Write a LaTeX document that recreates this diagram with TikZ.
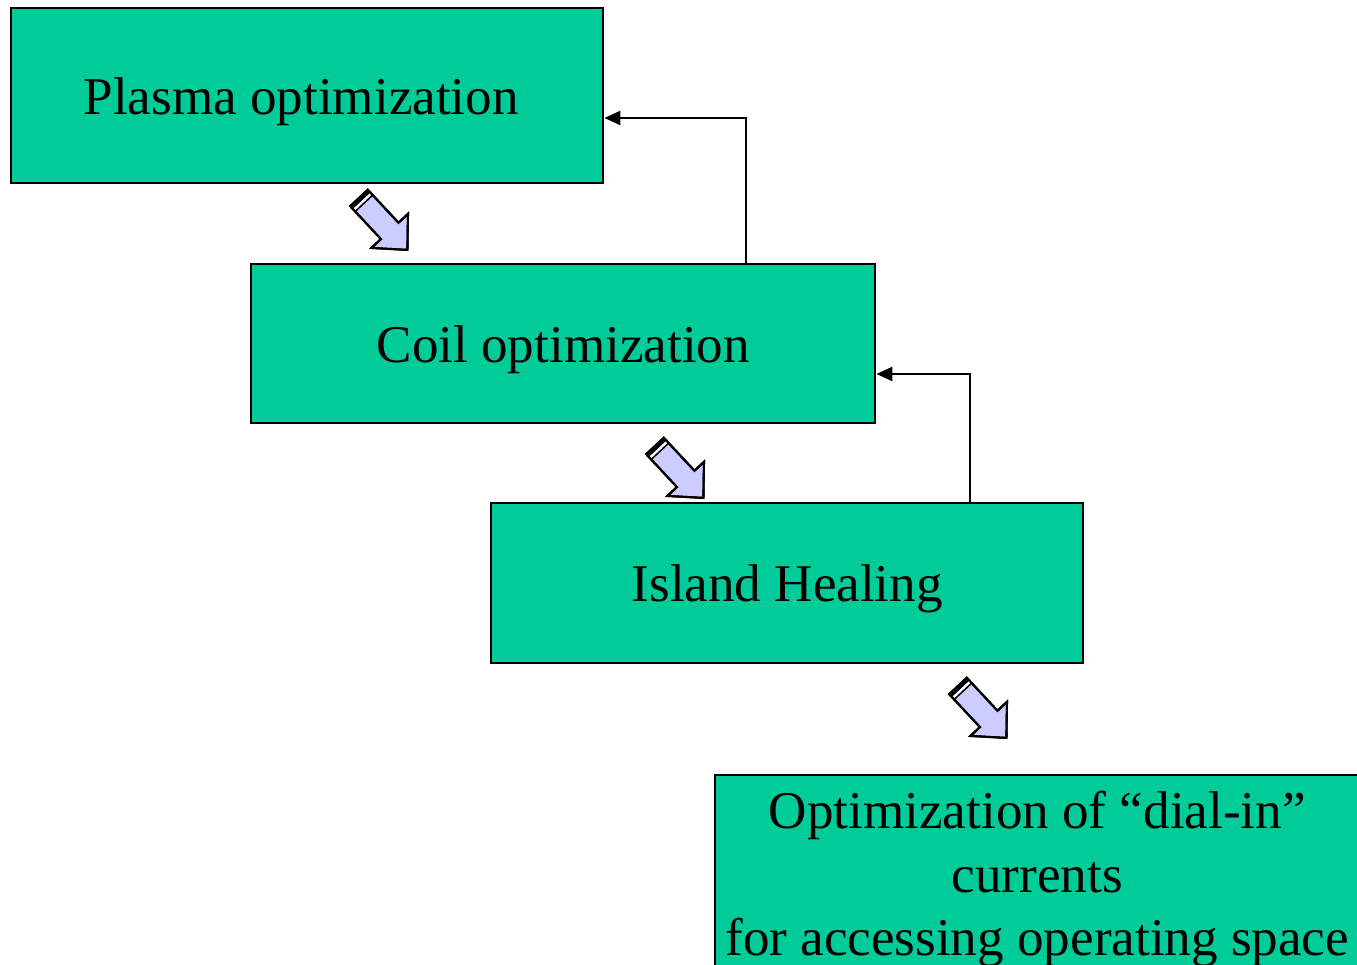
\documentclass[tikz,border=0pt]{standalone}
\usepackage{fontspec}
\setmainfont{Liberation Serif}
\usetikzlibrary{calc,arrows.meta}
\definecolor{boxgreen}{RGB}{0,204,153}
\definecolor{lav}{RGB}{204,204,255}
\tikzset{
  box/.style={draw=black, line width=0.6pt, fill=boxgreen, anchor=north west,
    inner sep=0pt, align=center, font=\fontsize{15.1}{18.1}\selectfont},
  onebox/.style={box, text depth=0pt},
  conn/.style={line width=0.55pt, -{Triangle[length=4.5pt,width=4pt]}},
  blockarrow/.pic={
    \filldraw[fill=lav, draw=black, line width=0.6pt]
      (0,-12) -- (45,-12) -- (45,-25) -- (71,0) -- (45,25) -- (45,12) -- (0,12) -- cycle;
    \fill[black] (0,-12) rectangle (4,12);
    \fill[white] (4,-12) rectangle (6.5,12);
    \fill[black] (6.5,-12) rectangle (8,12);
    \draw[black, line width=0.6pt, line join=miter]
      (0,-12) -- (45,-12) -- (45,-25) -- (71,0) -- (45,25) -- (45,12) -- (0,12) -- cycle;
  }
}
\begin{document}
\begin{tikzpicture}[x=0.01cm, y=-0.01cm]
\clip (0,0) rectangle (1357,965);
\fill[white] (0,0) rectangle (1357,965);
\node[onebox, minimum width=5.92cm, minimum height=1.75cm] (plasma) at (10,7) {Plasma optimization\hspace*{0.12cm}};
\node[onebox, minimum width=6.24cm, minimum height=1.59cm] (coil) at (250,263) {Coil optimization};
\node[onebox, minimum width=5.92cm, minimum height=1.60cm] (island) at (490,502) {Island Healing};
\node[box, minimum width=6.44cm, minimum height=2.08cm] (dial) at (714,774)
  {Optimization of “dial-in”\\currents\\for accessing operating space};
\draw[conn] ($(coil.north west)+(496,0)$) |- ($(plasma.north east)+(0,111)$);
\draw[conn] ($(island.north west)+(480,0)$) |- ($(coil.north east)+(0,111)$);
\pic[rotate=-47] at (359,198) {blockarrow};
\pic[rotate=-47] at (655,446) {blockarrow};
\pic[rotate=-47] at (958,686) {blockarrow};
\end{tikzpicture}
\end{document}
